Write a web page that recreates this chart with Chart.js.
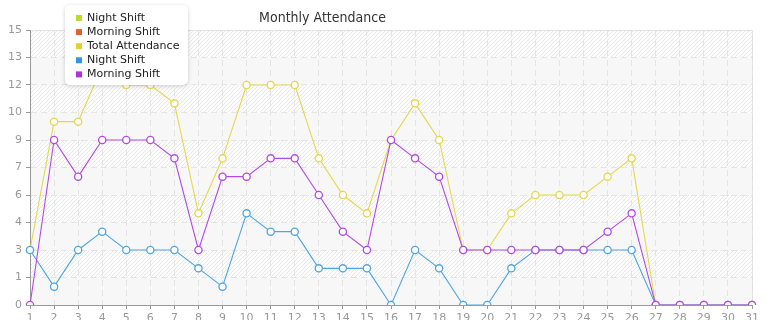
<!DOCTYPE html>
<html>
<head>
<meta charset="utf-8">
<script src="https://cdn.jsdelivr.net/npm/chart.js@4/dist/chart.umd.min.js"></script>
<style>
  html, body { margin: 0; padding: 0; background: #fff; }
</style>
</head>
<body>
<canvas id="myChart" width="765" height="320"></canvas>
<script>
// chart data
const days = ['1', '2', '3', '4', '5', '6', '7', '8', '9', '10', '11', '12', '13', '14', '15', '16',
  '17', '18', '19', '20', '21', '22', '23', '24', '25', '26', '27', '28', '29', '30', '31']
const totalAttendance = [3, 10, 10, 13, 12, 12, 11, 5, 8, 12, 12, 12, 8, 6, 5, 9, 11, 9, 3, 3, 5, 6, 6, 6, 7, 8, 0, 0, 0, 0, 0]
const nightShift = [3, 1, 3, 4, 3, 3, 3, 2, 1, 5, 4, 4, 2, 2, 2, 0, 3, 2, 0, 0, 2, 3, 3, 3, 3, 3, 0, 0, 0, 0, 0]
const morningShift = [0, 9, 7, 9, 9, 9, 8, 3, 7, 7, 8, 8, 6, 4, 3, 9, 8, 7, 3, 3, 3, 3, 3, 3, 4, 5, 0, 0, 0, 0, 0]
const yTickLabels = ['0', '1', '3', '4', '6', '7', '9', '10', '12', '13', '15']
const legendLabels = ['Night Shift', 'Morning Shift', 'Total Attendance', 'Night Shift', 'Morning Shift']
const legendColors = ['#b9dc2e', '#e0612b', '#e3d22c', '#3097e0', '#b22fe0']

const FONT = '"DejaVu Sans", sans-serif'

// diagonal hatch used on every other band
function makeHatch (ctx) {
  const c = document.createElement('canvas')
  c.width = 4
  c.height = 4
  const g = c.getContext('2d')
  g.fillStyle = '#fcfcfc'
  g.fillRect(0, 0, 4, 4)
  g.fillStyle = '#e9e9e9'
  for (let i = 0; i < 4; i++) g.fillRect(i, 3 - i, 1, 1)
  return ctx.createPattern(c, 'repeat')
}

const backdrop = {
  id: 'backdrop',
  beforeDraw (chart) {
    const { ctx, chartArea: a, scales: { y } } = chart
    const hatch = makeHatch(ctx)
    const ticks = y.ticks
    ctx.save()
    for (let i = 0; i < ticks.length - 1; i++) {
      const y1 = y.getPixelForValue(ticks[i].value)
      const y2 = y.getPixelForValue(ticks[i + 1].value)
      ctx.fillStyle = i % 2 === 1 ? hatch : '#f7f7f7'
      ctx.fillRect(a.left, y2, a.right - a.left, y1 - y2)
    }
    ctx.strokeStyle = '#dedede'
    ctx.lineWidth = 1
    ctx.beginPath()
    ctx.moveTo(a.left, a.top + 0.5)
    ctx.lineTo(a.right + 0.5, a.top + 0.5)
    ctx.lineTo(a.right + 0.5, a.bottom)
    ctx.stroke()
    // title
    ctx.fillStyle = '#333'
    ctx.font = '14px "DejaVu Sans Condensed", ' + FONT
    ctx.textAlign = 'center'
    ctx.textBaseline = 'middle'
    ctx.fillText('Monthly Attendance', 322.5, 18)
    ctx.restore()
  },
  afterDraw (chart) {
    const { ctx } = chart
    ctx.save()
    // legend box
    ctx.shadowColor = 'rgba(0,0,0,0.18)'
    ctx.shadowBlur = 4
    ctx.shadowOffsetY = 1
    ctx.fillStyle = '#fff'
    ctx.beginPath()
    ctx.roundRect(65, 5, 123, 80, 5)
    ctx.fill()
    ctx.shadowColor = 'transparent'
    ctx.font = '11px ' + FONT
    ctx.textBaseline = 'middle'
    ctx.textAlign = 'left'
    legendLabels.forEach((label, i) => {
      const cy = 18 + i * 14.1
      ctx.fillStyle = legendColors[i]
      ctx.fillRect(76, cy - 3, 6, 6)
      ctx.fillStyle = '#222'
      ctx.fillText(label, 87, cy)
    })
    ctx.restore()
  }
}

function line (label, data, color) {
  return {
    label: label,
    data: data,
    borderColor: color,
    backgroundColor: '#fff',
    pointBackgroundColor: '#fff',
    pointBorderColor: color,
    pointRadius: 3.6,
    pointBorderWidth: 1.3,
    borderWidth: 1.1,
    tension: 0,
    fill: false
  }
}

const ctx = document.getElementById('myChart').getContext('2d')
const myChart = new Chart(ctx, {
  type: 'line',
  data: {
    labels: days,
    datasets: [
      Object.assign(line('Morning Shift', morningShift, '#b44ae4'), { order: 0 }),
      Object.assign(line('Night Shift', nightShift, '#4fa6e2'), { order: 1 }),
      Object.assign(line('Total Attendance', totalAttendance, '#e6d74c'), { order: 2 })
    ]
  },
  options: {
    responsive: false,
    animation: false,
    devicePixelRatio: 1,
    layout: { autoPadding: false, padding: { top: 30, right: 13, left: 0, bottom: 0 } },
    plugins: {
      legend: { display: false },
      title: { display: false },
      tooltip: { enabled: false }
    },
    scales: {
      x: {
        offset: false,
        afterFit: (s) => { s.height = 15 },
        grid: { color: '#e4e4e4', tickColor: '#999', tickLength: 4 },
        border: { color: '#999', dash: [6, 4] },
        ticks: { color: '#999', font: { size: 11, family: FONT }, padding: 3, maxRotation: 0, autoSkip: false }
      },
      y: {
        min: 0,
        max: 15,
        afterFit: (s) => { s.width = 30 },
        afterBuildTicks: (s) => {
          s.ticks = yTickLabels.map((t, i) => ({ value: i * 1.5 }))
        },
        grid: { color: '#e4e4e4', tickColor: '#999', tickLength: 4 },
        border: { color: '#999', dash: [6, 4] },
        ticks: {
          color: '#999',
          font: { size: 11, family: FONT },
          padding: 4,
          callback: (v, i) => yTickLabels[i]
        }
      }
    }
  },
  plugins: [backdrop]
})
</script>
</body>
</html>
